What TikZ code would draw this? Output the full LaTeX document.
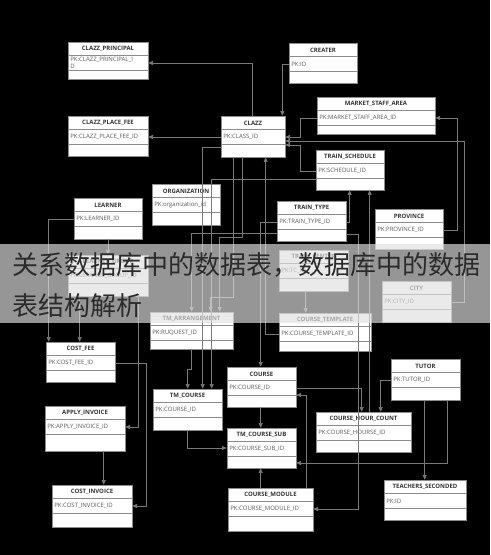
\documentclass[tikz,border=0pt]{standalone}
\usepackage{fontspec}
\usetikzlibrary{arrows.meta, calc, fit}
\newfontfamily\erfont{Open Sans}
\newfontfamily\cjk{Noto Sans CJK SC}
\definecolor{boxline}{HTML}{8C8C8C}
\definecolor{linkgray}{HTML}{7A7A7A}
\definecolor{headgray}{HTML}{333333}
\definecolor{pkgray}{HTML}{5A5A5A}
\definecolor{bannertext}{HTML}{2B2B2B}
\definecolor{bannerfill}{gray}{0.88}

% one table of the model: id, top left corner, width, height, name, key
\newcommand{\ertable}[6]{%
  \path (#2) coordinate (#1-nw) ++(#3,#4) coordinate (#1-se);
  \node[tblbox, fit=(#1-nw)(#1-se)] (#1) {};
  \draw[tblsep] ($(#1-nw)+(0,13.5)$) -- ++(#3,0);
  \draw[tblsep] ($(#1-nw)+(0,28.5)$) -- ++(#3,0);
  \node[tblhead] (#1-t) at ($(#1-nw)+(#3/2,7)$) {#5};
  \node[tblpk, anchor=west] (#1-pk) at ($(#1-nw)+(2,21)$) {#6};
}

\begin{document}
\begin{tikzpicture}[x=0.75pt, y=-0.75pt,
    tblbox/.style={draw=boxline, fill=white, line width=0.5pt, inner sep=0pt},
    tblsep/.style={draw=boxline, line width=1pt},
    tblhead/.style={font=\erfont\bfseries\fontsize{4.5}{5.4}\selectfont, text=headgray, inner sep=0pt},
    tblpk/.style={font=\erfont\fontsize{4.5}{5.6}\selectfont, text=pkgray, inner sep=0pt, align=left},
    erlink/.style={draw=linkgray, line width=0.5pt, -{Triangle[length=3.5pt,width=3pt]}}]
  % Background
  \fill[black] (0,0) rectangle (490,555);
  \useasboundingbox (0,0) rectangle (490,555);
  % Tables
  \ertable{principal}{68,42}{80}{37}{CLAZZ\_PRINCIPAL}{PK:CLAZZ\_PRINCIPAL\_I\\D}
  \ertable{placefee}{68,116}{80}{40}{CLAZZ\_PLACE\_FEE}{PK:CLAZZ\_PLACE\_FEE\_ID}
  \ertable{clazz}{221,116}{64}{41}{CLAZZ}{PK:CLASS\_ID}
  \ertable{creater}{289,43}{68}{40}{CREATER}{PK:ID}
  \ertable{market}{317,97}{118}{37}{MARKET\_STAFF\_AREA}{PK:MARKET\_STAFF\_AREA\_ID}
  \ertable{schedule}{316,150}{68}{40}{TRAIN\_SCHEDULE}{PK:SCHEDULE\_ID}
  \ertable{learner}{74,198}{68}{41}{LEARNER}{PK:LEARNER\_ID}
  \ertable{organization}{152,184}{68}{41}{ORGANIZATION}{PK:organization\_id}
  \ertable{group}{68,255}{80}{41}{LEARNER\_GROUP}{PK:LEARNER\_GROUP\_ID}
  \ertable{traintype}{277,201}{69}{40}{TRAIN\_TYPE}{PK:TRAIN\_TYPE\_ID}
  \ertable{province}{375,209}{68}{40}{PROVINCE}{PK:PROVINCE\_ID}
  \ertable{traincenter}{279,250}{69}{41}{TRAIN\_CENTER}{PK:TC\_ID}
  \ertable{city}{382,281}{69}{41}{CITY}{PK:CITY\_ID}
  \ertable{arrangement}{150,312}{83}{37}{TM\_ARRANGEMENT}{PK:RUQUEST\_ID}
  \ertable{template}{279,313}{92}{38}{COURSE\_TEMPLATE}{PK:COURSE\_TEMPLATE\_ID}
  \ertable{costfee}{46,342}{69}{40}{COST\_FEE}{PK:COST\_FEE\_ID}
  \ertable{applyinv}{45,406}{80}{45}{APPLY\_INVOICE}{PK:APPLY\_INVOICE\_ID}
  \ertable{tmcourse}{153,389}{69}{41}{TM\_COURSE}{PK:COURSE\_ID}
  \ertable{course}{227,367}{69}{40}{COURSE}{PK:COURSE\_ID}
  \ertable{tmsub}{227,428}{69}{40}{TM\_COURSE\_SUB}{PK:COURSE\_SUB\_ID}
  \ertable{tutor}{391,359}{69}{41}{TUTOR}{PK:TUTOR\_ID}
  \ertable{hourcount}{316,412}{95}{40}{COURSE\_HOUR\_COUNT}{PK:COURSE\_HOURSE\_ID}
  \ertable{costinv}{52,485}{80}{42}{COST\_INVOICE}{PK:COST\_INVOICE\_ID}
  \ertable{module}{228,488}{85}{43}{COURSE\_MODULE}{PK:COURSE\_MODULE\_ID}
  \ertable{seconded}{384,480}{82}{40}{TEACHERS\_SECONDED}{PK:ID}
  % Links
  \draw[erlink] ($(clazz.north west)+(32,0)$) |- (principal.east |- principal-pk);
  \draw[erlink] (clazz.west |- clazz-pk) -- (clazz-pk -| placefee.east);
  \draw[erlink] (creater.west |- creater-pk) -| ($(clazz.north east)+(-3,0)$);
  \draw[erlink] (market.west |- market-pk) -- ++(-16,0) |- (clazz.east |- clazz-pk);
  \draw[erlink] (city.east |- city-pk) -- ++(13,0) |- ($(clazz.east |- clazz-pk)+(0,4)$);
  \draw[erlink] (schedule.west |- schedule-pk) -- ++(-15,0) |- ($(clazz.east |- clazz-pk)+(0,8)$);
  \draw[erlink] (province.east |- province-pk) -- ++(14,0) |- (market.east |- market-pk);
  \draw[erlink] (traintype.east |- traintype-pk) -| ($(schedule.south west)+(34,0)$);
  \draw[erlink] ($(hourcount.north west)+(54,0)$) -- ($(schedule.south west)+(54,0)$);
  \draw[erlink] ($(traintype.south east)+(0,-7)$) -- ++(12,0) |- (module.east |- module-pk);
  \draw[erlink] (traintype.west |- traintype-pk) -| ($(course.north west)+(34,0)$);
  \draw[erlink] (template.west |- template-pk) -| ($(clazz.south west)+(45,0)$);
  \draw[erlink] ($(clazz.west)+(0,11)$) -| ($(tmcourse.north west)+(50,0)$);
  \draw[erlink] ($(schedule.south west)+(0,-11)$) -| ($(tmcourse.north west)+(59,0)$);
  \draw[erlink] ($(traintype.south west)+(0,-8)$) -| ($(arrangement.north west)+(42,0)$);
  \draw[erlink] ($(clazz.south west)+(22,0)$) -- ++(0,80) -| ($(arrangement.north west)+(70,0)$);
  \draw[erlink] ($(clazz.south west)+(13,0)$) -- ++(0,140) -| ($(arrangement.north west)+(61,0)$);
  \draw[erlink] ($(arrangement.south west)+(42,0)$) -- ++(0,20) -| ($(tmcourse.north west)+(35,0)$);
  \draw[erlink] ($(tmcourse.south west)+(35,0)$) |- (tmsub.west);
  \draw[erlink] ($(course.south west)+(34,0)$) -- ($(tmsub.north west)+(34,0)$);
  \draw[erlink] ($(module.north west)+(33,0)$) -- ($(tmsub.south west)+(34,0)$);
  \draw[erlink] ($(module.north west)+(79,0)$) |- ($(course.east)+(0,8)$);
  \draw[erlink] (course.east |- course-pk) -| ($(hourcount.north west)+(46,0)$);
  \draw[erlink] (tutor.west |- tutor-pk) -| ($(hourcount.north west)+(65,0)$);
  \draw[erlink] ($(tutor.south west)+(34,0)$) -- ($(seconded.north west)+(41,0)$);
  \draw[erlink] ($(tutor.south west)+(57,0)$) |- ($(tmsub.east)+(0,15)$);
  \draw[erlink] ($(traincenter.south west)+(27,0)$) -- ($(template.north west)+(27,0)$);
  \draw[erlink] (learner.west |- learner-pk) -| ($(costfee.north west)+(3,0)$);
  \draw[erlink] (learner.south) -- (group.north);
  \draw[erlink] ($(group.south west)+(12,0)$) -- ($(costfee.north west)+(34,0)$);
  \draw[erlink] (costfee.east |- costfee-pk) -- ++(31,0) |- (costinv.east |- costinv-pk);
  \draw[erlink] ($(group.south east)+(-10,0)$) |- (applyinv.east |- applyinv-pk);
  \draw[erlink] ($(applyinv.south west)+(59,0)$) -- ($(costinv.north west)+(52,0)$);
  % Banner
  \fill[bannerfill, opacity=0.67] (0,244) rectangle (490,323);
  \node[anchor=base west, font=\cjk\fontsize{19.5}{30}\selectfont, text=bannertext, inner sep=0pt] (banner1) at (12,275) {关系数据库中的数据表，数据库中的数据};
  \node[anchor=base west, font=\cjk\fontsize{19.5}{30}\selectfont, text=bannertext, inner sep=0pt] (banner2) at (12,315) {表结构解析};
\end{tikzpicture}
\end{document}
